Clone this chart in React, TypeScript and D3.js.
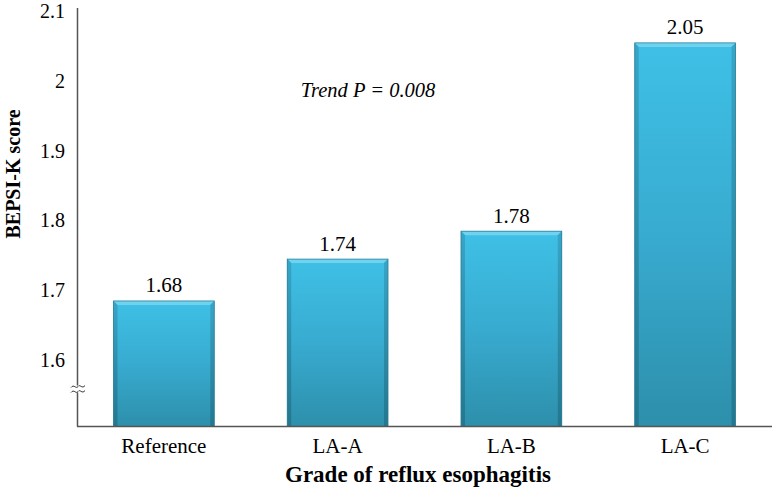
import React from "react";
import * as d3 from "d3";

const categories = ["Reference", "LA-A", "LA-B", "LA-C"];
const values = [1.68, 1.74, 1.78, 2.05];
const valueLabels = ["1.68", "1.74", "1.78", "2.05"];
const yTicks = [1.6, 1.7, 1.8, 1.9, 2.0, 2.1];
const yTickLabels = ["1.6", "1.7", "1.8", "1.9", "2", "2.1"];
const yTitle = "BEPSI-K score";
const xTitle = "Grade of reflux esophagitis";
const annotation = "Trend P = 0.008";

const W = 774;
const H = 496;
const FONT = "'Liberation Serif', 'Times New Roman', serif";

export default function App() {
  const x = d3
    .scaleBand<string>()
    .domain(categories)
    .range([77, 772])
    .paddingInner(0.42)
    .paddingOuter(0.21);
  const y = d3.scaleLinear().domain([1.5, 2.1]).range([426.5, 8]);
  const bw = x.bandwidth();
  const bev = 4;

  const breakY = y(1.553);
  const wave = (dy: number) => {
    const p = d3.path();
    p.moveTo(71, breakY + dy);
    p.bezierCurveTo(74, breakY + dy - 4, 76, breakY + dy + 2, 78, breakY + dy - 1);
    p.bezierCurveTo(80, breakY + dy - 4, 82, breakY + dy + 2, 85, breakY + dy - 2);
    return p.toString();
  };

  return (
    <svg
      width={W}
      height={H}
      style={{ position: "absolute", left: 0, top: 0, background: "#fff" }}
    >
      <defs>
        <linearGradient id="barGrad" x1="0" y1="0" x2="0" y2="1">
          <stop offset="0%" stopColor="#3fc0e6" />
          <stop offset="50%" stopColor="#38abd0" />
          <stop offset="100%" stopColor="#2d8fab" />
        </linearGradient>
        <linearGradient id="sideGrad" x1="0" y1="0" x2="0" y2="1">
          <stop offset="0%" stopColor="#37a6c8" />
          <stop offset="100%" stopColor="#24768e" />
        </linearGradient>
      </defs>

      {categories.map((c, i) => {
        const x0 = x(c)!;
        const x1 = x0 + bw;
        const y0 = y(values[i]);
        const y1 = y(1.5);
        return (
          <g key={c}>
            <rect x={x0} y={y0} width={bw} height={y1 - y0} fill="url(#barGrad)" />
            <polygon
              points={`${x0},${y0} ${x1},${y0} ${x1 - bev},${y0 + bev} ${x0 + bev},${y0 + bev}`}
              fill="#6fd3ef"
            />
            <polygon
              points={`${x0},${y0} ${x0 + bev},${y0 + bev} ${x0 + bev},${y1} ${x0},${y1}`}
              fill="url(#sideGrad)"
            />
            <polygon
              points={`${x1},${y0} ${x1 - bev},${y0 + bev} ${x1 - bev},${y1} ${x1},${y1}`}
              fill="url(#sideGrad)"
            />
            <rect
              x={x0}
              y={y0}
              width={bw}
              height={y1 - y0}
              fill="none"
              stroke="#2a7f98"
              strokeWidth={0.8}
            />
            <text
              x={x0 + bw / 2}
              y={y0 - 8.5}
              textAnchor="middle"
              style={{ fontFamily: FONT, fontSize: 21 }}
              fill="#000"
            >
              {valueLabels[i]}
            </text>
            <text
              x={x0 + bw / 2}
              y={453}
              textAnchor="middle"
              style={{ fontFamily: FONT, fontSize: 21 }}
              fill="#000"
            >
              {c}
            </text>
          </g>
        );
      })}

      <line x1={77.5} x2={77.5} y1={y(2.1)} y2={y(1.5)} stroke="#555" strokeWidth={1.5} />
      <line x1={77} x2={772} y1={y(1.5)} y2={y(1.5)} stroke="#555" strokeWidth={1.5} />

      <rect x={74} y={breakY - 4} width={8} height={7} fill="#fff" />
      <path d={wave(-2)} fill="none" stroke="#333" strokeWidth={1} />
      <path d={wave(3)} fill="none" stroke="#333" strokeWidth={1} />

      {yTicks.map((t, i) => (
        <text
          key={t}
          x={65}
          y={y(t) + 3}
          dy="0.35em"
          textAnchor="end"
          style={{ fontFamily: FONT, fontSize: 20 }}
          fill="#000"
        >
          {yTickLabels[i]}
        </text>
      ))}

      <text
        transform={`translate(20,${174}) rotate(-90)`}
        textAnchor="middle"
        style={{ fontFamily: FONT, fontSize: 20, fontWeight: "bold" }}
        fill="#000"
      >
        {yTitle}
      </text>
      <text
        x={418}
        y={482}
        textAnchor="middle"
        style={{ fontFamily: FONT, fontSize: 23, fontWeight: "bold" }}
        fill="#000"
      >
        {xTitle}
      </text>

      <text
        x={368}
        y={97}
        textAnchor="middle"
        style={{ fontFamily: FONT, fontSize: 20.5, fontStyle: "italic" }}
        fill="#000"
      >
        {annotation}
      </text>
    </svg>
  );
}
